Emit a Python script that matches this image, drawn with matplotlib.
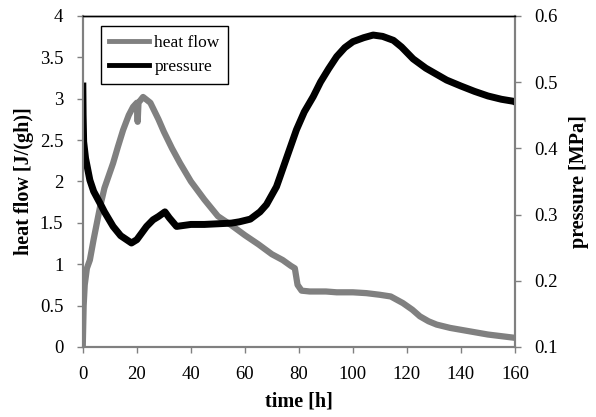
import matplotlib.pyplot as plt
from matplotlib.ticker import FuncFormatter

plt.rcParams['font.family'] = ['Liberation Serif', 'DejaVu Serif']

# heat flow readings (time [h], J/(gh))
hf_t = [0, 0.3, 0.7, 1.5, 2.6, 4, 6.3, 8, 11.2, 13, 14.9, 17, 18.6, 20, 20.3, 20.6, 22.3,
        25, 28, 30, 33, 36, 40, 45, 50, 55, 60, 65, 70, 74, 77, 78.5, 79.5, 81, 84, 90,
        94, 100, 105, 110, 114, 118.5, 122, 124.8, 128, 131, 136, 143, 150, 155, 160]
hf_v = [0.05, 0.5, 0.75, 0.95, 1.05, 1.3, 1.68, 1.92, 2.22, 2.42, 2.62, 2.8, 2.9, 2.95, 2.72, 2.95, 3.02,
        2.95, 2.75, 2.6, 2.4, 2.22, 2.0, 1.78, 1.58, 1.47, 1.35, 1.24, 1.12, 1.05, 0.98, 0.95, 0.75, 0.68, 0.67, 0.67,
        0.66, 0.66, 0.65, 0.63, 0.61, 0.53, 0.45, 0.37, 0.31, 0.27, 0.23, 0.19, 0.15, 0.13, 0.11]

# pressure readings (time [h], MPa)
p_t = [0, 0.1, 0.3, 1, 2.6, 4, 6.3, 8, 11.2, 14, 18, 20, 23.6, 26, 28, 30.4, 32, 34.7,
       40, 45, 50, 55, 58, 62, 65.6, 68, 71.7, 73, 76, 79.1, 82, 85.3, 88, 91, 94, 97, 100,
       104, 107.5, 111, 115, 118, 122.3, 127, 134.7, 140, 145, 150, 155, 159.4, 160]
p_v = [0.494, 0.45, 0.41, 0.385, 0.352, 0.335, 0.3175, 0.304, 0.282, 0.268, 0.257, 0.262, 0.282, 0.292, 0.297, 0.304, 0.295, 0.282,
       0.285, 0.285, 0.286, 0.287, 0.289, 0.293, 0.304, 0.315, 0.342, 0.357, 0.392, 0.428, 0.455, 0.478, 0.5, 0.52, 0.5385, 0.552, 0.561,
       0.567, 0.571, 0.569, 0.563, 0.553, 0.535, 0.521, 0.503, 0.494, 0.486, 0.479, 0.474, 0.471, 0.47]

gray = '#808080'

fig = plt.figure(figsize=(5.96, 4.17), dpi=100)
ax = fig.add_axes([0.139, 0.168, 0.725, 0.794])
ax2 = ax.twinx()

l1, = ax.plot(hf_t, hf_v, color=gray, lw=4.5, solid_joinstyle='round', label='heat flow')
l2, = ax2.plot(p_t, p_v, color='black', lw=5, solid_joinstyle='round', label='pressure')

ax.set_xlim(0, 160)
ax.set_ylim(0, 4)
ax2.set_ylim(0.1, 0.6)
ax.set_xticks(range(0, 161, 20))
ax.set_yticks([0, 0.5, 1, 1.5, 2, 2.5, 3, 3.5, 4])
ax2.set_yticks([0.1, 0.2, 0.3, 0.4, 0.5, 0.6])
ax.yaxis.set_major_formatter(FuncFormatter(lambda v, p: f'{v:g}'))
ax2.yaxis.set_major_formatter(FuncFormatter(lambda v, p: f'{v:.1f}'))

for a in (ax, ax2):
    for s in ('left', 'right', 'bottom'):
        a.spines[s].set_color(gray)
        a.spines[s].set_linewidth(1.5)
    a.spines['top'].set_color('black')
    a.spines['top'].set_linewidth(1)
    a.tick_params(direction='out', length=4, width=1, color=gray, labelsize=13.5, pad=10)

ax.set_xlabel('time [h]', fontsize=14.5, fontweight='bold', labelpad=6)
ax.set_ylabel('heat flow [J/(gh)]', fontsize=14.5, fontweight='bold', labelpad=4)
ax2.set_ylabel('pressure [MPa]', fontsize=14.5, fontweight='bold', rotation=90, labelpad=8)

leg = ax2.legend([l1, l2], ['heat flow', 'pressure'], loc='upper left',
                 bbox_to_anchor=(0.041, 0.968), fontsize=12.5, fancybox=False,
                 edgecolor='black', framealpha=1, handlelength=2.3, handletextpad=0.3,
                 borderpad=0.5, labelspacing=0.45, borderaxespad=0)
leg.get_frame().set_linewidth(1)
for h in leg.get_lines():
    h.set_linewidth(3.5)

fig.savefig('out.png', dpi=100)
